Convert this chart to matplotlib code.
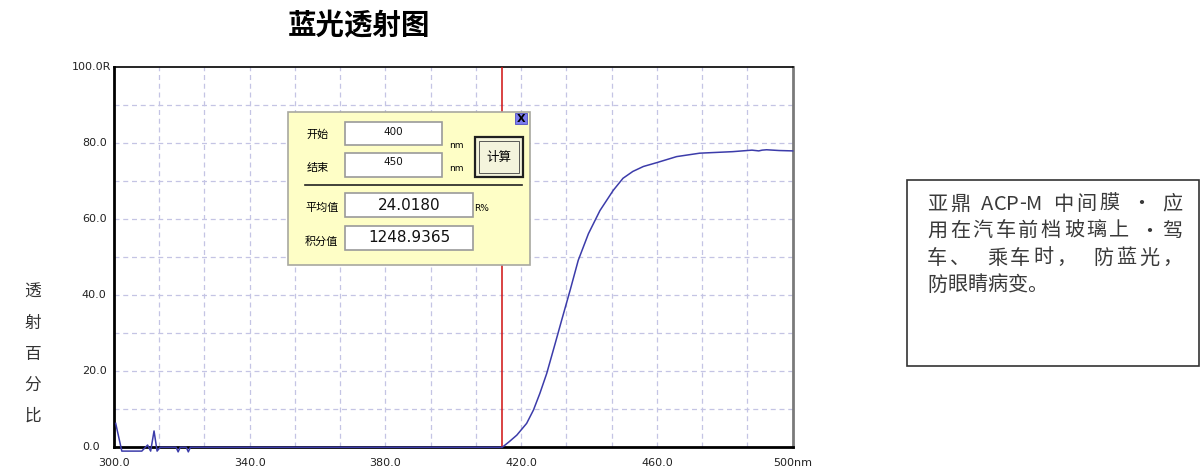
import matplotlib
matplotlib.use("Agg")
import matplotlib.pyplot as plt
import numpy as np
from matplotlib.patches import Rectangle

plt.rcParams['font.family'] = ['Noto Sans CJK SC', 'DejaVu Sans']

# transmission curve
wavelength = [300.5, 302.3, 308.2, 309.9, 310.8, 311.8, 312.7, 313.6, 318.3, 318.9,
              319.5, 321.3, 321.9, 322.5, 414.4, 416.5, 418.7, 421.6, 423.6, 425.5,
              427.5, 430.0, 431.9, 434.4, 436.8, 439.8, 443.2, 447.1, 450.0, 452.9,
              456.0, 459.9, 465.8, 472.6, 482.3, 488.0, 490.0, 491.0, 492.3, 496.0,
              500.0]
transmit = [6.3, -1.0, -1.0, 0.6, -1.0, 4.3, -1.0, 0.0, 0.0, -1.2,
            0.0, 0.0, -1.2, 0.0, 0.0, 1.5, 3.2, 6.3, 9.8, 14.2,
            19.4, 27.3, 33.4, 41.3, 49.2, 56.2, 62.3, 67.6, 70.8, 72.6,
            73.9, 74.9, 76.5, 77.4, 77.8, 78.2, 78.0, 78.2, 78.3, 78.1,
            78.0]
cursor_nm = 414.4

x_ticks = [300, 340, 380, 420, 460, 500]
x_labels = ["300.0", "340.0", "380.0", "420.0", "460.0", "500nm"]
y_ticks = [0, 20, 40, 60, 80, 100]
y_labels = ["0.0", "20.0", "40.0", "60.0", "80.0", "100.0R"]

title = "蓝光透射图"
ylabel = "透射百分比"
note_lines = ["亚鼎 ACP-M 中间膜 · 应", "用在汽车前档玻璃上 ·驾", "车、  乘车时，  防蓝光，", "防眼睛病变。"]

W, H = 1201, 470


def px(x, y):
    return x / W, 1 - y / H


fig = plt.figure(figsize=(W / 100, H / 100), dpi=100)
ax = fig.add_axes([114 / W, (H - 447.3) / H, 678.7 / W, 380 / H])
ax.set_xlim(300, 500)
ax.set_ylim(0, 100)

for g in np.arange(300, 500.01, 200 / 15)[1:-1]:
    ax.axvline(g, color='#c4c4e4', lw=0.9, ls=(0, (4, 3)), zorder=1)
for g in range(10, 100, 10):
    ax.axhline(g, color='#c4c4e4', lw=0.9, ls=(0, (4, 3)), zorder=1)

ax.axvline(cursor_nm, color='#d01010', lw=1.1, zorder=3)
ax.plot(wavelength, transmit, color='#3c3caa', lw=1.1, zorder=4, clip_on=False)

ax.set_xticks([])
ax.set_yticks([])
for s in ['left', 'bottom']:
    ax.spines[s].set_linewidth(2)
    ax.spines[s].set_color('black')
ax.spines['top'].set_linewidth(1.2)
ax.spines['right'].set_linewidth(2)
ax.spines['right'].set_color('#7a7a7a')

for v, lab in zip(x_ticks, x_labels):
    ax.text(v, -4, lab, ha='center', va='center', fontsize=8, color='#222222',
            family='DejaVu Sans', clip_on=False)
for v, lab in zip(y_ticks, y_labels):
    xx = 300 - 9.5 if lab != "100.0R" else 300 - 12.5
    ax.text(xx, v, lab, ha='left', va='center', fontsize=8, color='#222222',
            family='DejaVu Sans', clip_on=False)

fig.text(*px(359, 26), title, ha='center', va='center', fontsize=20.5, fontweight='bold')
for i, ch in enumerate(ylabel):
    fig.text(*px(33, 292 + 31 * i), ch, ha='center', va='center', fontsize=12, color='#333333')


# dialog drawn over the plot
def box(x0, y0, x1, y1, fc, ec, lw=1.0, z=5):
    r = Rectangle(px(x0, y1), (x1 - x0) / W, (y1 - y0) / H, transform=fig.transFigure,
                  facecolor=fc, edgecolor=ec, lw=lw, zorder=z)
    fig.add_artist(r)


box(288, 111.7, 530, 265, '#fefec6', '#a8a8a0', lw=1.2)
box(515, 113, 527, 123.5, '#7c7cf0', '#5050c0', lw=0.6, z=6)
fig.text(*px(521, 118.5), "X", ha='center', va='center', fontsize=8, fontweight='bold',
         family='DejaVu Sans', zorder=7)

fields = [(345, 121.7, 441.7, 145, "400", 7.5, 132),
          (345, 153.3, 441.7, 176.7, "450", 7.5, 162),
          (345, 193.3, 473.3, 216.7, "24.0180", 11, 205),
          (345, 226, 473.3, 250, "1248.9365", 11, 237)]
for x0, y0, x1, y1, txt, fs, ty in fields:
    box(x0, y0, x1, y1, 'white', '#9a9a9a', lw=1.2, z=6)
    fig.text(*px((x0 + x1) / 2, ty), txt, ha='center', va='center', fontsize=fs,
             family='DejaVu Sans', color='#111111', zorder=7)

for lab, x, y in [("开始", 318, 135), ("结束", 318, 168.3), ("平均值", 321.7, 208.3), ("积分值", 321.7, 241.7)]:
    fig.text(*px(x, y), lab, ha='center', va='center', fontsize=8, zorder=7)
for lab, x, y in [("nm", 456.7, 145), ("nm", 456.7, 168.3), ("R%", 481.7, 208.3)]:
    fig.text(*px(x, y), lab, ha='center', va='center', fontsize=6.5, family='DejaVu Sans', zorder=7)

box(475, 137.3, 522.7, 177.3, '#f4f4dc', '#202020', lw=1.6, z=6)
box(479, 141.3, 518.7, 173.3, 'none', '#404040', lw=0.6, z=7)
fig.text(*px(499, 157), "计算", ha='center', va='center', fontsize=9, zorder=8)
fig.add_artist(plt.Line2D([305 / W, 521.7 / W], [1 - 185 / H, 1 - 185 / H],
                          transform=fig.transFigure, color='#222222', lw=1.2, zorder=7))

# note box on the right, lines justified like the word processor did
box(906.5, 180, 1199, 366, 'white', '#333333', lw=1.2, z=2)
renderer = fig.canvas.get_renderer()
left, right = 927, 1182


def latin(c):
    return c.isascii() and (c.isalnum() or c == '-')


for i, line in enumerate(note_lines):
    y = 204 + 27 * i
    chars = list(line)
    arts = [fig.text(0, 0, c, ha='left', va='center', fontsize=14.5, color='#3a3a3a') for c in chars]
    widths = [a.get_window_extent(renderer).width for a in arts]
    slots = [not (latin(a) and latin(b)) for a, b in zip(chars[:-1], chars[1:])]
    if i < len(note_lines) - 1:
        gap = (right - left - sum(widths)) / sum(slots)
    else:
        gap = 0
    x = left
    for k, (a, w) in enumerate(zip(arts, widths)):
        a.set_position(px(x, y))
        x += w + (gap if k < len(slots) and slots[k] else 0)

fig.savefig("out.png", dpi=100)
